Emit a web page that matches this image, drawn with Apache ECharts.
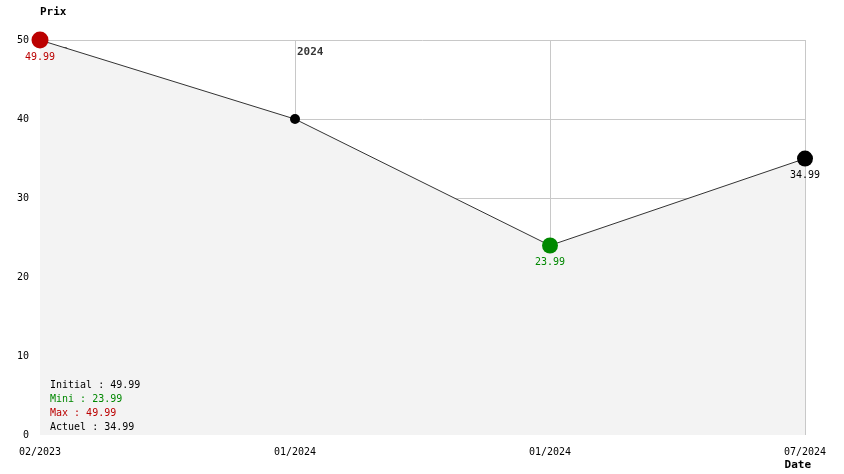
<!DOCTYPE html>
<html>
<head>
<meta charset="utf-8">
<script src="https://cdn.jsdelivr.net/npm/echarts@6/dist/echarts.min.js"></script>
<style>html,body{margin:0;padding:0;background:#fff}#c{width:844px;height:474px}</style>
</head>
<body>
<div id="c"></div>
<script>
const categories = ['02/2023', '01/2024', '01/2024', '07/2024'];
const prices = [49.99, 39.99, 23.99, 34.99];
const yearLabels = ['2023', '2024'];
const yearIndex = [0, 1];
const yTicks = [0, 10, 20, 30, 40, 50];

const FONT = '"DejaVu Sans Mono", "Liberation Mono", monospace';
const FS = 10;
const RED = '#bb0000', GREEN = '#008800', BLACK = '#000000';

const minV = Math.min(...prices), maxV = Math.max(...prices);
const iMin = prices.indexOf(minV), iMax = prices.indexOf(maxV), iLast = prices.length - 1;

const lineData = prices.map((v, i) => {
  let color = BLACK, size = 10, show = false;
  if (i === iMax) { color = RED; size = 17; show = true; }
  else if (i === iMin) { color = GREEN; size = 16; show = true; }
  else if (i === iLast) { color = BLACK; size = 16; show = true; }
  return {
    value: [i, v],
    symbolSize: size,
    itemStyle: { color: color },
    label: { show: show, color: color }
  };
});

const yearData = yearIndex.map((idx, k) => ({ value: [idx, yTicks[yTicks.length - 1]], name: yearLabels[k] }));

const chart = echarts.init(document.getElementById('c'));
chart.setOption({
  animation: false,
  backgroundColor: '#ffffff',
  textStyle: { fontFamily: FONT },
  grid: { left: 40, right: 39, top: 40, bottom: 39 },
  title: {
    left: 50, top: 378, padding: 0,
    text: [
      '{k|Initial : ' + prices[0].toFixed(2) + '}',
      '{g|Mini : ' + minV.toFixed(2) + '}',
      '{r|Max : ' + maxV.toFixed(2) + '}',
      '{k|Actuel : ' + prices[iLast].toFixed(2) + '}'
    ].join('\n'),
    textStyle: {
      fontFamily: FONT, fontSize: FS, fontWeight: 'normal', lineHeight: 14,
      rich: {
        k: { color: BLACK, fontFamily: FONT, fontSize: FS, lineHeight: 14 },
        g: { color: GREEN, fontFamily: FONT, fontSize: FS, lineHeight: 14 },
        r: { color: RED, fontFamily: FONT, fontSize: FS, lineHeight: 14 }
      }
    }
  },
  xAxis: {
    type: 'value', min: 0, max: categories.length - 1, interval: 1,
    name: 'Date', nameLocation: 'end', nameGap: 6,
    nameTextStyle: { fontFamily: FONT, fontSize: 11, fontWeight: 'bold', color: BLACK, align: 'right', verticalAlign: 'top', padding: [25, 0, 0, 0] },
    axisLine: { show: false }, axisTick: { show: false },
    axisLabel: { fontFamily: FONT, fontSize: FS, color: BLACK, margin: 12, formatter: v => categories[v] || '' },
    splitLine: { show: true, lineStyle: { color: '#c8c8c8', width: 1 } }
  },
  yAxis: {
    type: 'value', min: 0, max: 50, interval: 10,
    name: 'Prix', nameLocation: 'end', nameGap: 22,
    nameTextStyle: { fontFamily: FONT, fontSize: 11, fontWeight: 'bold', color: BLACK, align: 'left' },
    axisLine: { show: false }, axisTick: { show: false },
    axisLabel: { fontFamily: FONT, fontSize: FS, color: BLACK, margin: 11 },
    splitLine: { show: true, showMinLine: false, lineStyle: { color: '#c8c8c8', width: 1 } }
  },
  series: [
    {
      type: 'scatter', z: 1, silent: true,
      data: yearData,
      symbolSize: 2,
      itemStyle: { color: 'rgba(0,0,0,0)' },
      label: {
        show: true, formatter: p => p.name, position: [3, 8],
        fontFamily: FONT, fontSize: 11, fontWeight: 'bold', color: BLACK,
        align: 'left', verticalAlign: 'top'
      }
    },
    {
      type: 'line', z: 2,
      data: lineData,
      symbol: 'circle',
      showAllSymbol: true,
      lineStyle: { color: '#333333', width: 1 },
      areaStyle: { color: '#f3f3f3', opacity: 1 },
      label: {
        position: 'bottom', distance: 4,
        fontFamily: FONT, fontSize: FS,
        formatter: p => p.value[1].toFixed(2)
      },
      emphasis: { disabled: true }
    }
  ]
});
</script>
</body>
</html>
